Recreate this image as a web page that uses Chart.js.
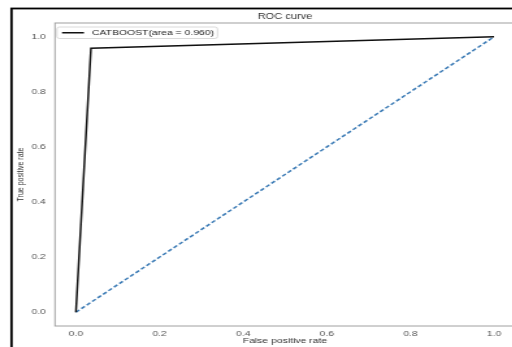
<!DOCTYPE html>
<html>
<head>
<meta charset="utf-8">
<script src="https://cdn.jsdelivr.net/npm/chart.js@4/dist/chart.umd.min.js"></script>
<style>
  html, body { margin: 0; padding: 0; background: #fff; overflow: hidden; width: 512px; height: 347px; }
  /* the original figure is stretched sideways, so scale the canvas the same way */
  #wrap { position: absolute; left: 0; top: 0; transform: scaleX(1.3); transform-origin: 0 0; }
</style>
</head>
<body>
<div id="wrap"><canvas id="roc-chart" width="420" height="360"></canvas></div>
<script>
// values
const fpr = [0, 0.036, 1];
const tpr = [0, 0.958, 1];
const chanceX = [0, 1];
const chanceY = [0, 1];
const modelLabel = 'CATBOOST(area = 0.960)';
const tickValues = [0, 0.2, 0.4, 0.6, 0.8, 1.0];
const chartTitle = 'ROC curve';
const xTitle = 'False positive rate';
const yTitle = 'True positive rate';

Chart.defaults.font.family = '"Liberation Sans", Arial, sans-serif';

function toPoints(xs, ys) {
    return xs.map((x, i) => ({ x: x, y: ys[i] }));
}

// frame, spines, title and the legend that sits inside the plot
const figurePlugin = {
    id: 'figure',
    beforeDraw(chart) {
        const ctx = chart.ctx;
        ctx.save();
        ctx.fillStyle = '#fff';
        ctx.fillRect(0, 0, chart.width, chart.height);
        ctx.restore();
    },
    afterDraw(chart) {
        const ctx = chart.ctx;
        const a = chart.chartArea;
        ctx.save();
        // outer black frame (cut off on the right and bottom)
        ctx.strokeStyle = '#000';
        ctx.lineWidth = 1.8;
        ctx.strokeRect(8.85, 8.5, 1000, 1000);
        // plot spines
        ctx.strokeStyle = '#a0a0a0';
        ctx.lineWidth = 1;
        ctx.strokeRect(a.left, a.top, a.right - a.left, a.bottom - a.top);
        // title
        ctx.fillStyle = '#333';
        ctx.font = '8.5px "Liberation Sans", Arial, sans-serif';
        ctx.textAlign = 'center';
        ctx.textBaseline = 'middle';
        ctx.fillText(chartTitle, (a.left + a.right) / 2, 16.5);
        // legend box
        const bx = a.left + 1.5, by = 27, bw = 123.5, bh = 11.5;
        ctx.beginPath();
        ctx.roundRect(bx, by, bw, bh, 2);
        ctx.fillStyle = 'rgba(255,255,255,0.85)';
        ctx.fill();
        ctx.strokeStyle = '#d0d0d0';
        ctx.lineWidth = 0.8;
        ctx.stroke();
        const ds = chart.data.datasets[0];
        ctx.beginPath();
        ctx.moveTo(bx + 3.9, by + bh / 2);
        ctx.lineTo(bx + 20.8, by + bh / 2);
        ctx.strokeStyle = ds.borderColor;
        ctx.lineWidth = ds.borderWidth;
        ctx.stroke();
        ctx.fillStyle = '#222';
        ctx.font = '8px "Liberation Sans", Arial, sans-serif';
        ctx.textAlign = 'left';
        ctx.fillText(ds.label, bx + 27, by + bh / 2 + 0.5);
        ctx.restore();
    }
};

new Chart(document.querySelector('#roc-chart').getContext('2d'), {
    type: 'line',
    data: {
        datasets: [{
            label: modelLabel,
            data: toPoints(fpr, tpr),
            borderColor: '#111',
            borderWidth: 1.5,
            pointRadius: 0,
            tension: 0
        }, {
            label: 'chance',
            data: toPoints(chanceX, chanceY),
            borderColor: '#3a7ab5',
            borderWidth: 1.5,
            borderDash: [3.5, 2],
            pointRadius: 0,
            tension: 0
        }]
    },
    options: {
        responsive: false,
        animation: false,
        devicePixelRatio: 1,
        layout: { padding: { left: 0, right: 23.9, top: 23, bottom: 0 } },
        plugins: {
            legend: { display: false },
            tooltip: { enabled: false }
        },
        scales: {
            x: {
                type: 'linear',
                min: -0.05,
                max: 1.05,
                grid: { display: false, drawTicks: false },
                border: { display: false },
                afterBuildTicks: s => { s.ticks = tickValues.map(v => ({ value: v })); },
                afterFit: s => { s.height = 34; },
                ticks: {
                    padding: 3,
                    color: '#555',
                    font: { size: 8 },
                    maxRotation: 0,
                    callback: v => v.toFixed(1)
                },
                title: {
                    display: true,
                    text: xTitle,
                    color: '#333',
                    font: { size: 8 },
                    padding: { top: 0, bottom: 14 }
                }
            },
            y: {
                type: 'linear',
                min: -0.05,
                max: 1.05,
                grid: { display: false, drawTicks: false },
                border: { display: false },
                afterBuildTicks: s => { s.ticks = tickValues.map(v => ({ value: v })); },
                afterFit: s => { s.width = 42.3; },
                ticks: {
                    padding: 7,
                    color: '#555',
                    font: { size: 8 },
                    callback: v => v.toFixed(1)
                },
                title: {
                    display: true,
                    text: yTitle,
                    color: '#333',
                    font: { size: 7 },
                    padding: { top: 12, bottom: 0 }
                }
            }
        }
    },
    plugins: [figurePlugin]
});
</script>
</body>
</html>
